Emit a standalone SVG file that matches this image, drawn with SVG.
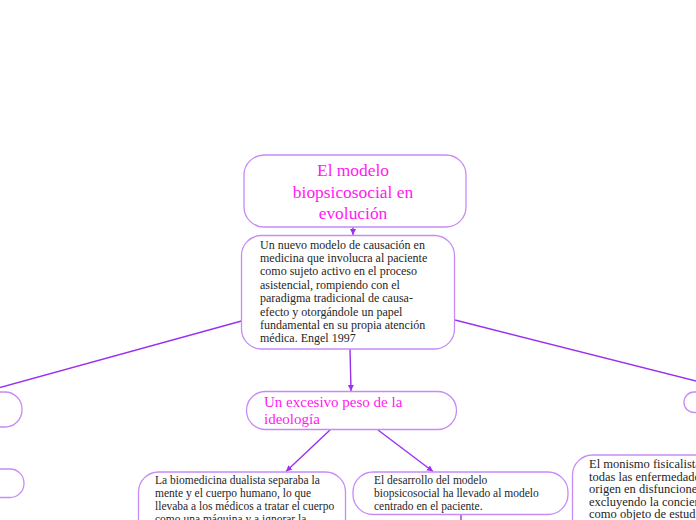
<svg xmlns="http://www.w3.org/2000/svg" width="696" height="520" viewBox="0 0 696 520">
<defs>
<marker id="arr" markerWidth="8" markerHeight="8" refX="6" refY="4" orient="auto" markerUnits="userSpaceOnUse">
<path d="M0,1 L6,4 L0,7 Z" fill="#9b30f0"/>
</marker>
<style>
.node{fill:#ffffff;stroke:#c88af7;stroke-width:1.3}
.edge{stroke:#9b30f0;stroke-width:1.4;fill:none}
.t{font-family:"Liberation Serif","Times New Roman",serif;fill:#262626}
.h{font-family:"Liberation Serif","Times New Roman",serif;fill:#ff19f0}
</style>
</defs>
<rect width="696" height="520" fill="#ffffff"/>
<g id="connectors">
<line class="edge" x1="353" y1="227" x2="353" y2="235" marker-end="url(#arr)"/>
<line class="edge" x1="350" y1="349" x2="351" y2="391" marker-end="url(#arr)"/>
<line class="edge" x1="330" y1="430" x2="286" y2="471.5" marker-end="url(#arr)"/>
<line class="edge" x1="378" y1="430" x2="433" y2="471.5" marker-end="url(#arr)"/>
<line class="edge" x1="241.5" y1="321" x2="-2" y2="388"/>
<line class="edge" x1="455" y1="320" x2="698" y2="381.5"/>
<line class="edge" x1="461" y1="514" x2="461" y2="522"/>
</g>
<g id="title">
<rect class="node" x="244" y="155" width="222" height="72" rx="20"/>
<text class="h" font-size="17.4" text-anchor="middle"><tspan x="353" y="176">El modelo</tspan><tspan x="353" y="197.5">biopsicosocial en</tspan><tspan x="353" y="219">evolución</tspan></text>
</g>
<g id="main">
<rect class="node" x="241.5" y="235.5" width="213" height="113.5" rx="20"/>
<text class="t" font-size="12"><tspan x="260" y="248.5">Un nuevo modelo de causación en</tspan><tspan x="260" y="262">medicina que involucra al paciente</tspan><tspan x="260" y="275.4">como sujeto activo en el proceso</tspan><tspan x="260" y="288.8">asistencial, rompiendo con el</tspan><tspan x="260" y="302.2">paradigma tradicional de causa-</tspan><tspan x="260" y="315.6">efecto y otorgándole un papel</tspan><tspan x="260" y="329">fundamental en su propia atención</tspan><tspan x="260" y="342.4">médica. Engel 1997</tspan></text>
</g>
<g id="excesivo">
<rect class="node" x="246.5" y="391.5" width="210" height="38" rx="19"/>
<text class="h" font-size="15"><tspan x="264" y="407">Un excesivo peso de la</tspan><tspan x="264" y="424">ideología</tspan></text>
</g>
<g id="biomedicina">
<rect class="node" x="138.5" y="472" width="207" height="70" rx="20"/>
<text class="t" font-size="11.5"><tspan x="155" y="484">La biomedicina dualista separaba la</tspan><tspan x="155" y="497">mente y el cuerpo humano, lo que</tspan><tspan x="155" y="510">llevaba a los médicos a tratar el cuerpo</tspan><tspan x="155" y="523">como una máquina y a ignorar la</tspan></text>
</g>
<g id="desarrollo">
<rect class="node" x="353" y="472" width="215" height="42.5" rx="20"/>
<text class="t" font-size="11.5"><tspan x="374" y="484">El desarrollo del modelo</tspan><tspan x="374" y="497">biopsicosocial ha llevado al modelo</tspan><tspan x="374" y="510">centrado en el paciente.</tspan></text>
</g>
<g id="monismo">
<rect class="node" x="572.5" y="455" width="160" height="90" rx="20"/>
<text class="t" font-size="12.5"><tspan x="589" y="468">El monismo fisicalista</tspan><tspan x="589" y="480.5">todas las enfermedades</tspan><tspan x="589" y="493">origen en disfunciones</tspan><tspan x="589" y="505.5">excluyendo la conciencia</tspan><tspan x="589" y="518">como objeto de estudio</tspan></text>
</g>
<g id="left-node-1">
<rect class="node" x="-40" y="392" width="62" height="35" rx="17"/>
</g>
<g id="left-node-2">
<rect class="node" x="-40" y="469" width="64" height="28.5" rx="14"/>
</g>
<g id="right-node-1">
<rect class="node" x="684" y="392" width="60" height="20.5" rx="10"/>
</g>
</svg>
